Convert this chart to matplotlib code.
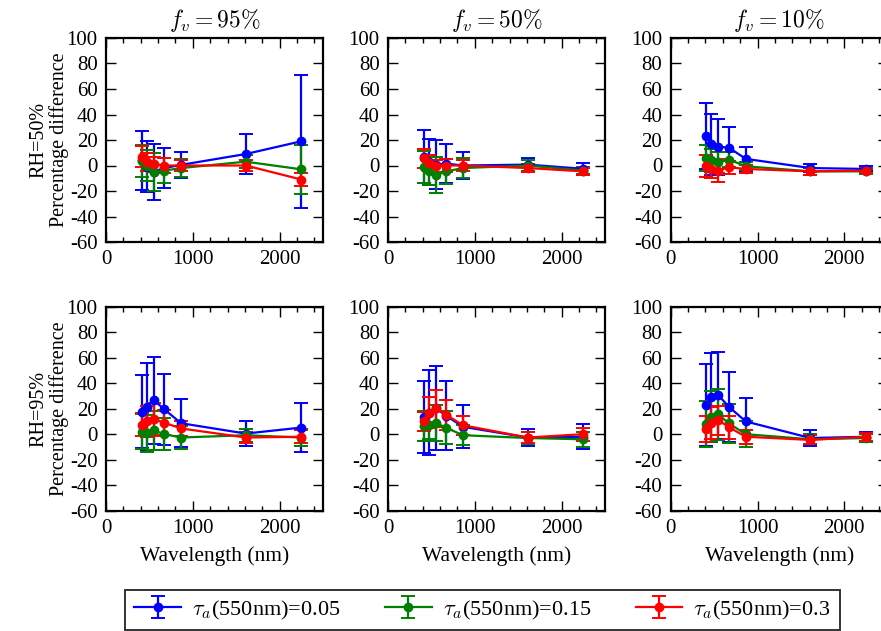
import matplotlib
matplotlib.use("Agg")
import matplotlib.pyplot as plt
from matplotlib.ticker import MultipleLocator

plt.rcParams['font.family'] = ['Liberation Serif', 'DejaVu Serif']
plt.rcParams['mathtext.fontset'] = 'cm'
plt.rcParams['axes.unicode_minus'] = False

wavelengths = [412, 470, 550, 670, 865, 1610, 2250]
tau_labels = [r'$\tau_a$(550nm)=0.05', r'$\tau_a$(550nm)=0.15', r'$\tau_a$(550nm)=0.3']
colors = ['#0000ff', '#008000', '#ff0000']
col_titles = [r'$f_v=95\%$', r'$f_v=50\%$', r'$f_v=10\%$']
row_labels = ['RH=50%\nPercentage difference', 'RH=95%\nPercentage difference']

# mean percentage difference per tau (0.05, 0.15, 0.3)
rh50_fv95_mean = [[4, -1, -5, -2, 0.5, 9, 19],
                  [3.5, 0, -5, -4, -2, 3, -3],
                  [7, 3, 1, 0, 0, 0, -11]]
rh50_fv95_err = [[23, 20, 22, 16, 10, 16, 52],
                 [12.5, 12, 15, 10, 7, 5, 19],
                 [8, 7, 6, 6, 4, 4, 5]]

rh50_fv50_mean = [[7, 2.5, 0.7, 1.5, 0, 0.7, -2.6],
                  [-1.4, -4, -7.6, -4.6, -2, 0, -4],
                  [5.5, 2, -0.6, 0, 0, -2, -4.6]]
rh50_fv50_err = [[21, 18, 19, 15, 10.6, 5, 4.5],
                 [12.5, 11, 14, 10, 8, 4, 3],
                 [7.3, 6, 5, 5, 4, 3, 3]]

rh50_fv10_mean = [[23, 16.6, 14.7, 14, 5.2, -2, -2.7],
                  [6, 4, 2.5, 4.7, -0.6, -4.6, -4.6],
                  [-0.6, -2.7, -4, -1.4, -2.7, -4.6, -4]]
rh50_fv10_err = [[26, 24, 22, 16, 9.5, 3.3, 2],
                 [10, 9, 8, 6, 3, 3, 2],
                 [8.5, 7, 9, 5, 3, 3, 2]]

rh95_fv95_mean = [[17.8, 21.5, 26.7, 19.6, 8.6, 0.5, 5.2],
                  [2, 0.8, 3, 0, -2.6, -0.8, -2.6],
                  [7.3, 10, 11.8, 9, 4.5, -2.6, -2]]
rh95_fv95_err = [[29, 34, 34, 28, 19, 10, 19],
                 [14, 14.5, 15.5, 12.5, 9, 5, 6.5],
                 [9, 12, 13, 10, 6, 4, 5]]

rh95_fv50_mean = [[13.6, 17, 20.4, 14.4, 5.8, -2.6, -2],
                  [6.5, 7, 9, 5, -0.8, -3, -4],
                  [10, 17, 20.4, 15.2, 7, -2.6, 0]]
rh95_fv50_err = [[28.5, 33, 33, 27, 17, 6.5, 10],
                 [12, 11, 14, 13, 8, 5, 6],
                 [7.5, 12, 14.5, 12, 7.5, 4, 5]]

rh95_fv10_mean = [[23, 29, 30.5, 21.5, 10, -3, -2],
                  [8, 13.5, 15.5, 8.5, 0, -4, -3],
                  [4, 9, 11, 5.5, -2, -4.5, -2]]
rh95_fv10_err = [[32, 35, 34, 27.5, 18, 6.5, 4],
                 [18, 20, 20, 15.5, 10, 4, 3],
                 [10.5, 12.5, 11.5, 9, 5.5, 3.5, 3]]

panels = [[(rh50_fv95_mean, rh50_fv95_err), (rh50_fv50_mean, rh50_fv50_err), (rh50_fv10_mean, rh50_fv10_err)],
          [(rh95_fv95_mean, rh95_fv95_err), (rh95_fv50_mean, rh95_fv50_err), (rh95_fv10_mean, rh95_fv10_err)]]

W, H = 881, 631
fig = plt.figure(figsize=(W / 100, H / 100), dpi=100)

col_left = [106, 388, 670.7]
ax_w = 217
row_top = [38, 306.7]
ax_h = 204

fs = 15
handles = []
for r in range(2):
    for c in range(3):
        ax = fig.add_axes([col_left[c] / W, 1 - (row_top[r] + ax_h) / H, ax_w / W, ax_h / H])
        means, errs = panels[r][c]
        for k in range(3):
            h = ax.errorbar(wavelengths, means[k], yerr=errs[k], color=colors[k], marker='o',
                            markersize=6, markeredgecolor=colors[k], linewidth=1.6,
                            elinewidth=1.6, capsize=5, capthick=1.4, label=tau_labels[k])
            if r == 0 and c == 0:
                handles.append(h)
        ax.set_xlim(0, 2500)
        ax.set_ylim(-60, 100)
        ax.yaxis.set_major_locator(MultipleLocator(20))
        ax.xaxis.set_major_locator(MultipleLocator(1000))
        ax.xaxis.set_minor_locator(MultipleLocator(200))
        ax.tick_params(which='both', direction='in', top=True, right=True, labelsize=fs, width=1.0)
        ax.tick_params(which='major', length=7, pad=6)
        ax.tick_params(which='minor', length=3.5)
        for sp in ax.spines.values():
            sp.set_linewidth(1.6)
        if r == 0:
            ax.set_title(col_titles[c], fontsize=17, pad=8)
        if r == 1:
            ax.set_xlabel('Wavelength (nm)', fontsize=15.5, labelpad=6)
        if c == 0:
            ax.set_ylabel(row_labels[r], fontsize=14.5, linespacing=1.05)
            ax.yaxis.set_label_coords(-0.172, 0.5)

leg = fig.legend(handles=handles, labels=tau_labels, loc='center', ncol=3,
                 bbox_to_anchor=((127 + 838) / 2 / W, 1 - 610 / H),
                 fontsize=16, frameon=True, fancybox=False, handlelength=2.1,
                 columnspacing=2.0, borderpad=0.4, handletextpad=0.5)
leg.get_frame().set_edgecolor('black')
leg.get_frame().set_linewidth(1.4)

fig.savefig('out.png', dpi=100)
